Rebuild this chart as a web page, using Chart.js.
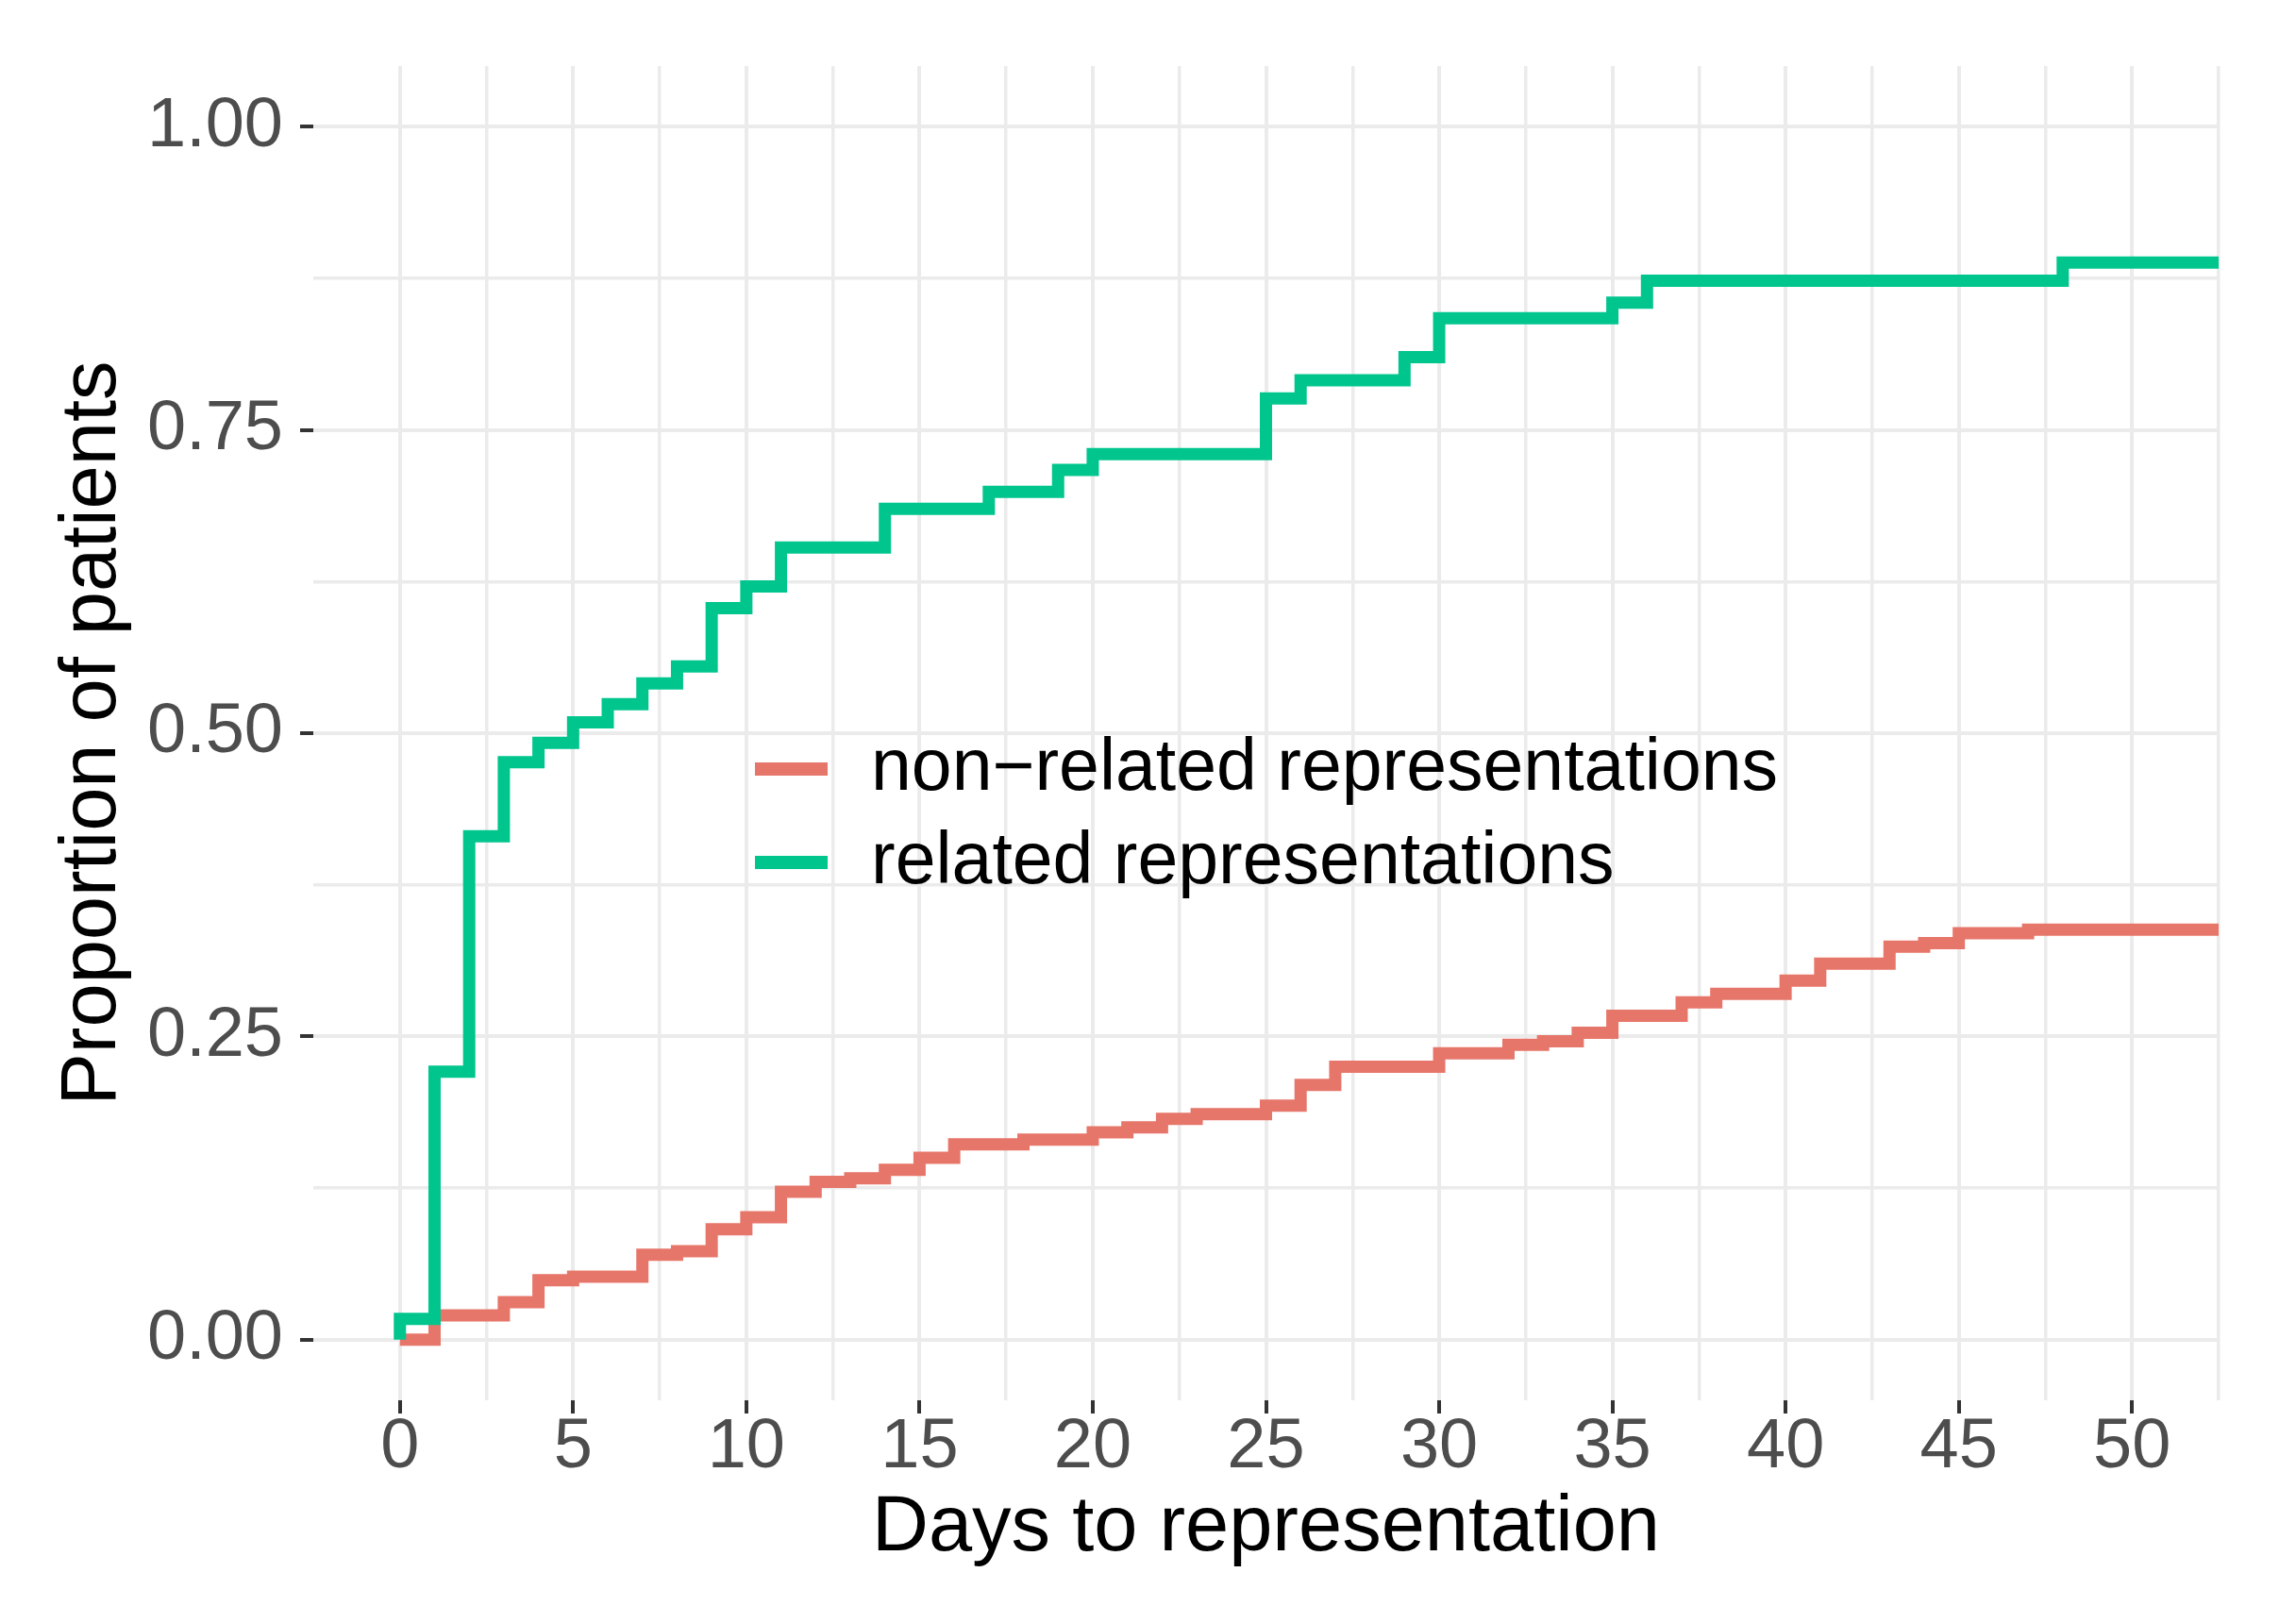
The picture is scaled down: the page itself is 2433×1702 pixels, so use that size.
<!DOCTYPE html>
<html>
<head>
<meta charset="utf-8">
<script src="https://cdn.jsdelivr.net/npm/chart.js@4.4.1/dist/chart.umd.min.js"></script>
<style>
  html, body { margin: 0; padding: 0; background: #fff; overflow: hidden; }
  #wrap { width: 2433px; height: 1702px; position: relative; }
</style>
</head>
<body>
<div id="wrap"><canvas id="km"></canvas></div>
<script>
// step points: day of the jump and the new cumulative proportion
const nonRelatedDays = [0, 1, 3, 4, 5, 7, 8, 9, 10, 11, 12, 13, 14, 15, 16, 18, 20, 21, 22, 23, 25, 26,
  27, 30, 32, 33, 34, 35, 37, 38, 40, 41, 43, 44, 45, 47, 52.5];
const nonRelatedProp = [0, 0.020, 0.031, 0.049, 0.052, 0.070, 0.073, 0.091, 0.101, 0.122, 0.130, 0.133,
  0.140, 0.150, 0.161, 0.165, 0.171, 0.175, 0.182, 0.186, 0.193, 0.210,
  0.225, 0.236, 0.243, 0.246, 0.253, 0.267, 0.278, 0.285, 0.296, 0.310, 0.324, 0.327, 0.335, 0.338, 0.338];

const relatedDays = [0, 0, 1, 2, 3, 4, 5, 6, 7, 8, 9, 10, 11, 14, 17, 19, 20, 25, 26, 29, 30, 35, 36, 48, 52.5];
const relatedProp = [0, 0.017, 0.221, 0.415, 0.476, 0.492, 0.509, 0.524, 0.541, 0.555, 0.603, 0.621, 0.653,
  0.685, 0.699, 0.717, 0.730, 0.776, 0.791, 0.810, 0.842, 0.855, 0.873, 0.888, 0.888];

const seriesNames = ["non\u2212related representations", "related representations"];
const seriesColors = ["#E7766A", "#00C68E"];

const xTicks = [0, 5, 10, 15, 20, 25, 30, 35, 40, 45, 50];
const xMinor = [2.5, 7.5, 12.5, 17.5, 22.5, 27.5, 32.5, 37.5, 42.5, 47.5, 52.5];
const yTicks = [0, 0.25, 0.5, 0.75, 1];
const yMinor = [0.125, 0.375, 0.625, 0.875];

const FONT = "'Liberation Sans', Arial, sans-serif";
const GRID = "#EBEBEB";

function toPoints(days, vals) {
  return days.map((d, i) => ({ x: d, y: vals[i] }));
}
function has(arr, v) {
  return arr.some(a => Math.abs(a - v) < 1e-6);
}
function gridFor(major, minor) {
  return {
    color: ctx => (has(major, ctx.tick.value) || has(minor, ctx.tick.value)) ? GRID : "rgba(0,0,0,0)",
    lineWidth: ctx => has(major, ctx.tick.value) ? 4 : 3.5,
    tickColor: ctx => has(major, ctx.tick.value) ? "#333333" : "rgba(0,0,0,0)",
    tickWidth: 4,
    tickLength: 14,
    drawTicks: true
  };
}

// legend sits inside the panel, like the original
const insideLegend = {
  id: "insideLegend",
  afterDraw(chart) {
    const ctx = chart.ctx;
    const a = chart.chartArea;
    const keyX = a.left + 468;
    const textX = a.left + 591;
    const rows = [a.top + 745, a.top + 844];
    ctx.save();
    ctx.font = "77px " + FONT;
    ctx.textBaseline = "middle";
    ctx.textAlign = "left";
    seriesNames.forEach((name, i) => {
      ctx.fillStyle = seriesColors[i];
      ctx.fillRect(keyX, rows[i] - 7, 77, 14);
      ctx.fillStyle = "#000000";
      ctx.fillText(name, textX, rows[i] + 1);
    });
    ctx.restore();
  }
};

new Chart(document.getElementById("km"), {
  type: "line",
  data: {
    datasets: [
      {
        label: seriesNames[0],
        data: toPoints(nonRelatedDays, nonRelatedProp),
        borderColor: seriesColors[0],
        order: 1
      },
      {
        label: seriesNames[1],
        data: toPoints(relatedDays, relatedProp),
        borderColor: seriesColors[1],
        order: 0
      }
    ]
  },
  options: {
    responsive: true,
    maintainAspectRatio: false,
    devicePixelRatio: 1,
    animation: false,
    layout: { padding: { left: 20, right: 82, top: 70, bottom: 20 } },
    elements: {
      line: { stepped: true, borderWidth: 13, tension: 0, fill: false, borderCapStyle: "butt", borderJoinStyle: "miter" },
      point: { radius: 0, hoverRadius: 0 }
    },
    plugins: { legend: { display: false }, tooltip: { enabled: false } },
    scales: {
      x: {
        type: "linear",
        min: -2.5,
        max: 52.5,
        afterBuildTicks: s => { s.ticks = xTicks.concat(xMinor).sort((p, q) => p - q).map(v => ({ value: v })); },
        afterFit: s => { s.height = 198; },
        border: { display: false },
        grid: gridFor(xTicks, xMinor),
        ticks: {
          autoSkip: false, maxRotation: 0, minRotation: 0, padding: 0,
          color: "#4D4D4D",
          font: { family: FONT, size: 74, lineHeight: 1 },
          callback: v => has(xTicks, v) ? String(v) : ""
        },
        title: {
          display: true, text: "Days to representation", color: "#000000",
          font: { family: FONT, size: 83, lineHeight: 1.2 },
          padding: { top: 0, bottom: 12 }
        }
      },
      y: {
        type: "linear",
        min: -0.05,
        max: 1.05,
        afterBuildTicks: s => { s.ticks = yTicks.concat(yMinor).sort((p, q) => p - q).map(v => ({ value: v })); },
        afterFit: s => { s.width = 312; },
        border: { display: false },
        grid: gridFor(yTicks, yMinor),
        ticks: {
          autoSkip: false, padding: 18,
          color: "#4D4D4D",
          font: { family: FONT, size: 74, lineHeight: 1 },
          callback: v => has(yTicks, v) ? v.toFixed(2) : ""
        },
        title: {
          display: true, text: "Proportion of patients", color: "#000000",
          font: { family: FONT, size: 83, lineHeight: 1.2 },
          padding: { top: 29, bottom: 0 }
        }
      }
    }
  },
  plugins: [insideLegend]
});
</script>
</body>
</html>
